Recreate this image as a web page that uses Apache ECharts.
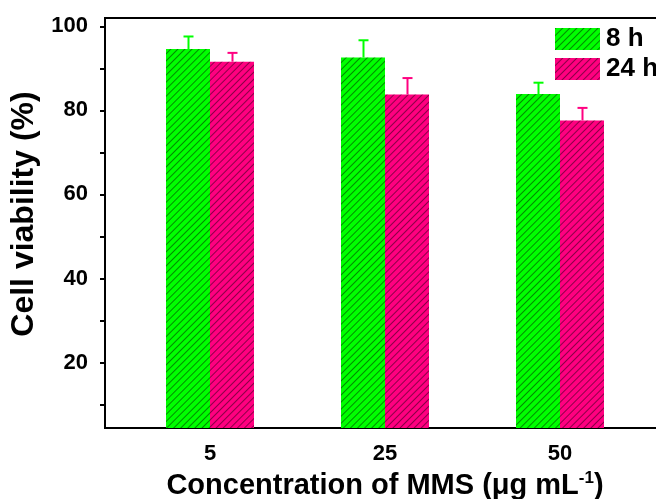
<!DOCTYPE html>
<html>
<head>
<meta charset="utf-8">
<script src="https://cdn.jsdelivr.net/npm/echarts@6/dist/echarts.min.js"></script>
<style>
  html, body { margin: 0; padding: 0; background: #fff; }
  #main { width: 656px; height: 499px; }
</style>
</head>
<body>
<div id="main"></div>
<script>
  // 数据
  var categories = ['5', '25', '50'];
  var seriesNames = ['8 h', '24 h'];
  var values8h = [94.6, 92.6, 83.9];
  var errors8h = [3.0, 4.1, 2.7];
  var values24h = [91.6, 83.8, 77.6];
  var errors24h = [2.1, 3.9, 3.0];
  var yLabelTicks = [20, 40, 60, 80, 100];
  var yAllTicks = [10, 20, 30, 40, 50, 60, 70, 80, 90, 100];

  var colors = ['#00ff00', '#ff0080'];
  var font = '"Liberation Sans", Arial, sans-serif';
  var barW = 44;

  function hatch() {
    return {
      symbol: 'rect',
      symbolSize: 1,
      dashArrayX: [[1, 0]],
      dashArrayY: [1, 4],
      rotation: -Math.PI / 4,
      color: 'rgba(0,0,0,0.45)'
    };
  }

  function barData(vals) {
    return vals.map(function (v, i) { return [i, v]; });
  }
  function errData(vals, errs) {
    return vals.map(function (v, i) { return [i, v, errs[i]]; });
  }

  // 误差线（只画上半部分）
  function errRender(shift, color) {
    return function (params, api) {
      var x = api.value(0), v = api.value(1), e = api.value(2);
      var p0 = api.coord([x, v]);
      var p1 = api.coord([x, v + e]);
      var cx = Math.round(p0[0] + shift) + 0.5;
      return {
        type: 'group',
        children: [
          { type: 'line', shape: { x1: cx, y1: p0[1], x2: cx, y2: p1[1] },
            style: { stroke: color, lineWidth: 2 } },
          { type: 'line', shape: { x1: cx - 5, y1: p1[1], x2: cx + 5, y2: p1[1] },
            style: { stroke: color, lineWidth: 2 } }
        ]
      };
    };
  }

  var myChart = echarts.init(document.getElementById('main'));
  var option = {
    animation: false,
    backgroundColor: '#fff',
    grid: {
      left: 105, top: 18, width: 560, bottom: 71,
      outerBoundsMode: 'none',
      containLabel: false,
      show: true, borderColor: '#000', borderWidth: 2
    },
    legend: {
      orient: 'vertical',
      left: 555, top: 26, padding: 0,
      itemWidth: 45, itemHeight: 22, itemGap: 4,
      icon: 'rect',
      data: seriesNames,
      itemStyle: { decal: hatch() },
      textStyle: { fontFamily: font, fontWeight: 'bold', fontSize: 26, color: '#000', padding: [0, 0, 0, 1] }
    },
    xAxis: {
      type: 'value',
      min: -0.6, max: 2.6,
      splitLine: { show: false },
      axisLine: { show: true, onZero: false, lineStyle: { color: '#000', width: 2 } },
      axisTick: { show: false },
      axisLabel: {
        customValues: [0, 1, 2],
        formatter: function (v) { return categories[Math.round(v)]; },
        margin: 15,
        color: '#000', fontFamily: font, fontWeight: 'bold', fontSize: 22
      },
      name: '{a|Concentration of MMS (μg mL}{s|-1}{a|)}',
      nameLocation: 'middle',
      nameGap: 42,
      nameTextStyle: {
        rich: {
          a: { fontFamily: font, fontWeight: 'bold', fontSize: 29, color: '#000' },
          s: { fontFamily: font, fontWeight: 'bold', fontSize: 17, color: '#000', verticalAlign: 'top', padding: [0, 0, 14, 0] }
        }
      }
    },
    yAxis: {
      type: 'value',
      min: 4.4, max: 102,
      splitLine: { show: false },
      axisLine: { show: true, onZero: false, lineStyle: { color: '#000', width: 2 } },
      axisTick: { show: true, inside: false, customValues: yAllTicks, length: 5, lineStyle: { color: '#000', width: 2 } },
      axisLabel: {
        customValues: yLabelTicks,
        margin: 17,
        color: '#000', fontFamily: font, fontWeight: 'bold', fontSize: 22
      },
      name: 'Cell viability (%)',
      nameLocation: 'middle',
      nameGap: 56,
      nameTextStyle: { fontFamily: font, fontWeight: 'bold', fontSize: 32, color: '#000', padding: [0, 0, 0, 18] }
    },
    series: [
      {
        name: seriesNames[0], type: 'bar', data: barData(values8h),
        barWidth: barW, barGap: '0%',
        itemStyle: { color: colors[0], decal: hatch() }
      },
      {
        name: seriesNames[1], type: 'bar', data: barData(values24h),
        barWidth: barW, barGap: '0%',
        itemStyle: { color: colors[1], decal: hatch() }
      },
      {
        type: 'custom', data: errData(values8h, errors8h),
        renderItem: errRender(-barW / 2, colors[0]), z: 3
      },
      {
        type: 'custom', data: errData(values24h, errors24h),
        renderItem: errRender(barW / 2, colors[1]), z: 3
      }
    ]
  };
  myChart.setOption(option);
</script>
</body>
</html>
